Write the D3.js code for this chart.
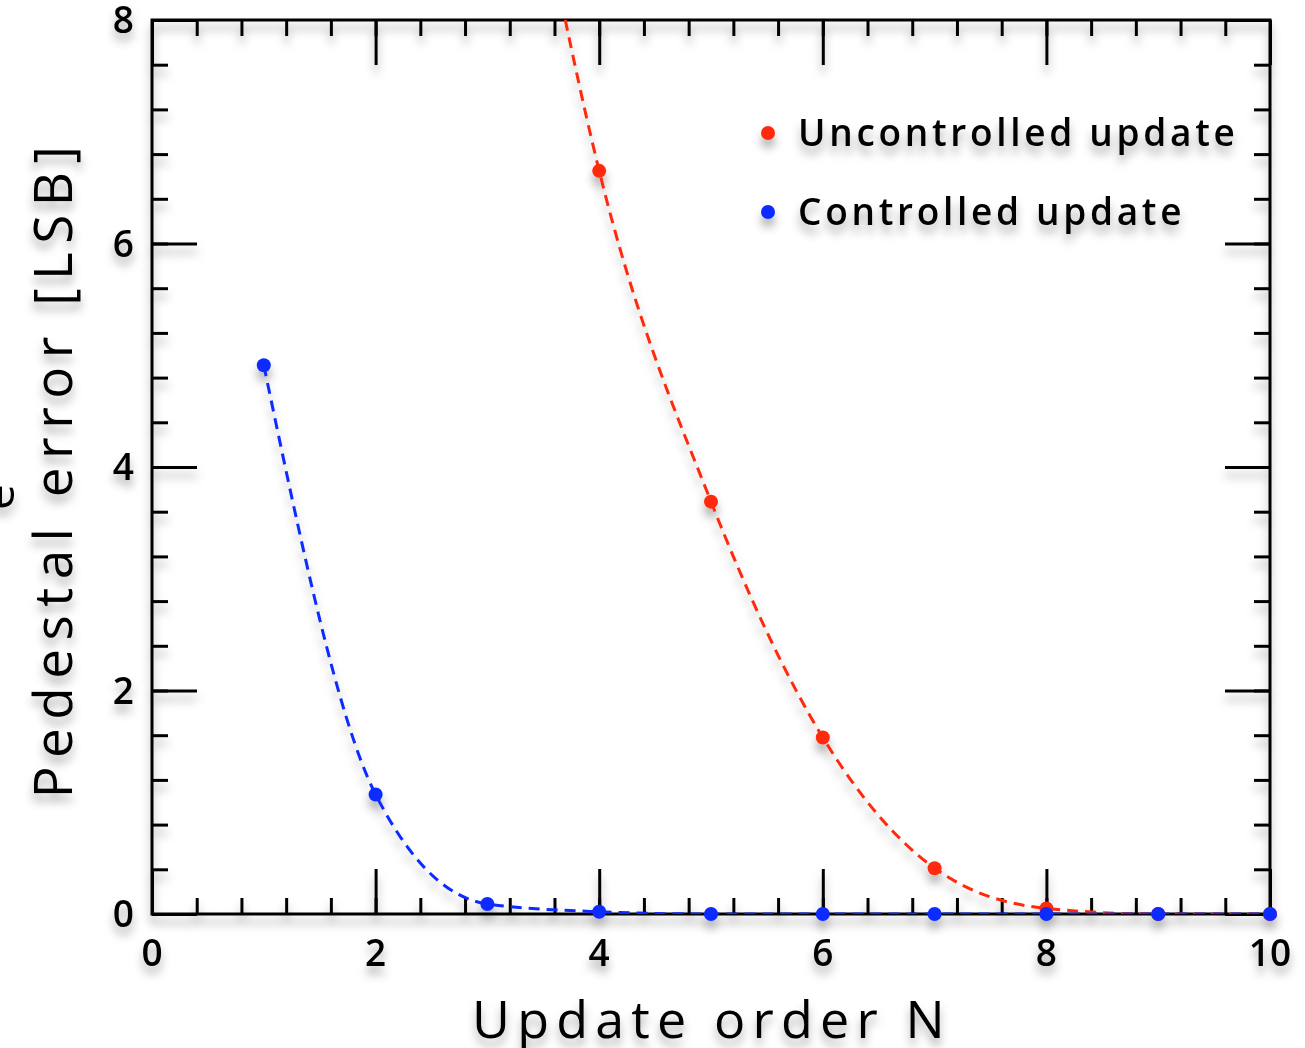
<!DOCTYPE html>
<html>
<head>
<meta charset="utf-8">
<script src="https://cdn.jsdelivr.net/npm/d3@7"></script>
<style>
  html, body { margin: 0; padding: 0; background: #fff; }
  svg { display: block; }
  text { font-family: "Open Sans", "DejaVu Sans", sans-serif; fill: #000; }
</style>
</head>
<body>
<svg id="chart" width="1305" height="1048"></svg>
<script>
// Update order N
const orders = [1, 2, 3, 4, 5, 6, 7, 8, 9, 10];
// Pedestal error [LSB] for each update scheme
const uncontrolledN = [4, 5, 6, 7, 8, 9, 10];
const uncontrolledErr = [6.65, 3.69, 1.58, 0.41, 0.05, 0.0, 0.0];
const controlledErr = [4.91, 1.07, 0.09, 0.02, 0.0, 0.0, 0.0, 0.0, 0.0, 0.0];
// Fitted uncontrolled curve continues above the frame before N = 4
const uncontrolledCurveN = [3.5, 4, 5, 6, 7, 8, 9, 10];
const uncontrolledCurveErr = [8.95, 6.65, 3.69, 1.58, 0.41, 0.05, 0.0, 0.0];

const xTicks = [0, 2, 4, 6, 8, 10];
const yTicks = [0, 2, 4, 6, 8];
const seriesNames = ["Uncontrolled update", "Controlled update"];
const seriesColors = ["#ff2a0a", "#0a2cff"];

const svg = d3.select("#chart");
const margin = { left: 152, right: 35, top: 20, bottom: 134 };
const W = 1305, H = 1048;
const x = d3.scaleLinear().domain([0, 10]).range([margin.left, W - margin.right]);
const y = d3.scaleLinear().domain([0, 8]).range([H - margin.bottom, margin.top]);

const defs = svg.append("defs");
const f = defs.append("filter").attr("id", "shadow")
  .attr("x", "-10%").attr("y", "-10%").attr("width", "130%").attr("height", "130%");
f.append("feDropShadow").attr("dx", 0).attr("dy", 8).attr("stdDeviation", 5)
  .attr("flood-color", "#000").attr("flood-opacity", 0.32);
defs.append("clipPath").attr("id", "plotClip").append("rect")
  .attr("x", x(0)).attr("y", y(8)).attr("width", x(10) - x(0)).attr("height", y(0) - y(8));

const g = svg.append("g").attr("filter", "url(#shadow)");

// minor ticks every 0.4 units, major every 2
const minor = d3.range(0, 10.001, 0.4).map(v => +v.toFixed(2));
const minorY = d3.range(0, 8.001, 0.4).map(v => +v.toFixed(2));
const majorLen = 45, minorLen = 16;

function tickAxis(axisGen, transform, ticks, len) {
  g.append("g").attr("transform", transform)
    .call(axisGen.tickValues(ticks).tickSize(len).tickFormat(""))
    .call(s => s.select(".domain").remove())
    .call(s => s.selectAll("line").attr("stroke", "#000").attr("stroke-width", 3));
}
// bottom & top (ticks inward)
tickAxis(d3.axisTop(x), `translate(0,${y(0)})`, minor, minorLen);
tickAxis(d3.axisTop(x), `translate(0,${y(0)})`, xTicks, majorLen);
tickAxis(d3.axisBottom(x), `translate(0,${y(8)})`, minor, minorLen);
tickAxis(d3.axisBottom(x), `translate(0,${y(8)})`, xTicks, majorLen);
// left & right (ticks inward)
tickAxis(d3.axisRight(y), `translate(${x(0)},0)`, minorY, minorLen);
tickAxis(d3.axisRight(y), `translate(${x(0)},0)`, yTicks, majorLen);
tickAxis(d3.axisLeft(y), `translate(${x(10)},0)`, minorY, minorLen);
tickAxis(d3.axisLeft(y), `translate(${x(10)},0)`, yTicks, majorLen);

// frame
g.append("rect").attr("x", x(0)).attr("y", y(8))
  .attr("width", x(10) - x(0)).attr("height", y(0) - y(8))
  .attr("fill", "none").attr("stroke", "#000").attr("stroke-width", 3);

// tick labels
g.append("g").selectAll("text").data(xTicks).join("text")
  .attr("x", d => x(d)).attr("y", y(0) + 52)
  .attr("text-anchor", "middle").attr("font-size", 37).attr("font-weight", 600)
  .text(d => d);
g.append("g").selectAll("text").data(yTicks).join("text")
  .attr("x", x(0) - 18).attr("y", d => y(d) + 13)
  .attr("text-anchor", "end").attr("font-size", 37).attr("font-weight", 600)
  .text(d => d);

// axis titles
g.append("text").attr("x", 712).attr("y", 1038)
  .attr("text-anchor", "middle").attr("font-size", 52).attr("letter-spacing", 7.2)
  .text("Update order N");
g.append("text").attr("transform", "translate(72,468) rotate(-90)")
  .attr("text-anchor", "middle").attr("font-size", 53).attr("letter-spacing", 8.5)
  .text("Pedestal error [LSB]");
g.append("text").attr("transform", "translate(14,497) rotate(-90)")
  .attr("text-anchor", "middle").attr("font-size", 46)
  .text("e");

// curves
const line = d3.line().x(d => x(d[0])).y(d => y(d[1])).curve(d3.curveMonotoneX);
const plot = g.append("g").attr("clip-path", "url(#plotClip)");
plot.append("path")
  .attr("d", line(uncontrolledCurveN.map((n, i) => [n, uncontrolledCurveErr[i]])))
  .attr("fill", "none").attr("stroke", seriesColors[0]).attr("stroke-width", 3)
  .attr("stroke-dasharray", "11,7");
plot.append("path")
  .attr("d", line(orders.map((n, i) => [n, controlledErr[i]])))
  .attr("fill", "none").attr("stroke", seriesColors[1]).attr("stroke-width", 3)
  .attr("stroke-dasharray", "11,7");

// points
g.append("g").selectAll("circle").data(uncontrolledN.map((n, i) => [n, uncontrolledErr[i]]))
  .join("circle").attr("cx", d => x(d[0])).attr("cy", d => y(d[1])).attr("r", 7)
  .attr("fill", seriesColors[0]);
g.append("g").selectAll("circle").data(orders.map((n, i) => [n, controlledErr[i]]))
  .join("circle").attr("cx", d => x(d[0])).attr("cy", d => y(d[1])).attr("r", 7)
  .attr("fill", seriesColors[1]);

// legend
const leg = g.append("g").selectAll("g").data(seriesNames).join("g")
  .attr("transform", (d, i) => `translate(768,${133 + i * 79})`);
leg.append("circle").attr("r", 7).attr("fill", (d, i) => seriesColors[i]);
leg.append("text").attr("x", 30).attr("y", 13)
  .attr("font-size", 37).attr("font-weight", 600).attr("letter-spacing", 3.7)
  .text(d => d);
</script>
</body>
</html>
